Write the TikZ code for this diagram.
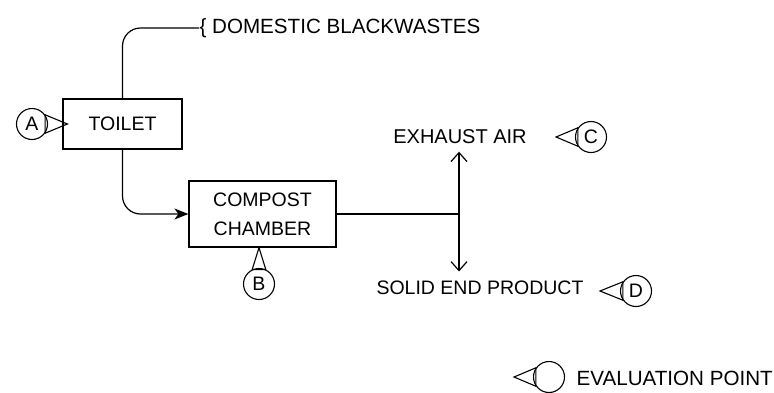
\documentclass[tikz,border=0pt]{standalone}
\usepackage{fontspec}
\setmainfont{Liberation Sans}
\usetikzlibrary{arrows.meta,calc}
\begin{document}
\begin{tikzpicture}[x=1pt,y=-1pt,
  line width=1.2pt,
  every node/.style={font=\fontsize{19.5}{29}\selectfont},
  unitbox/.style={draw,rectangle,inner sep=0pt,align=center},
  lbl/.style={inner sep=0pt},
  widelbl/.style={inner sep=0pt,font=\fontsize{20.6}{24}\selectfont},
  evalcirc/.style={draw,circle,minimum size=31pt,inner sep=0pt,line width=1.1pt},
  evaltri/.style={line width=1.1pt,line join=miter},
  flowarrow/.style={-{Stealth[length=14pt,width=11pt,inset=4pt]}},
  outarrow/.style={-{Straight Barb[length=9pt,width=16pt]}}
]
\useasboundingbox (0,0) rectangle (774,392);

% units
\node[unitbox,minimum width=119pt,minimum height=50pt] (toilet) at (122.5,124) {TOILET};
\node[unitbox,minimum width=147pt,minimum height=66pt] (chamber) at (262.5,214) {COMPOST\\CHAMBER};

% labels
\node[widelbl,anchor=west] (dom) at (199,28) {\{ DOMESTIC BLACKWASTES};
\node[lbl,font=\fontsize{20}{24}\selectfont] (exhaust) at (460,137) {EXHAUST AIR};
\node[lbl] (solid) at (480,288) {SOLID END PRODUCT};
\node[widelbl,anchor=west] (legend) at (576,378) {EVALUATION POINT};

% connectors
\draw[rounded corners=18pt] (toilet.north) |- (dom.west);
\draw[rounded corners=18pt,flowarrow] (toilet.south) |- (chamber.west);
\coordinate (j) at (459,214);
\draw (chamber.east) -- (j);
\draw[outarrow,shorten >=7pt] (j) -- (j |- exhaust.south);
\draw[outarrow,shorten >=9pt] (j) -- (j |- solid.north);

% evaluation points
\node[evalcirc] (cA) at (32,124) {A};
\coordinate (tA) at ($(toilet.west)+(5,0)$);
\draw[evaltri] (cA.35) -- (tA) -- (cA.-35) -- cycle;

\node[evalcirc] (cB) at (259,284) {B};
\coordinate (tB) at (cB |- chamber.south);
\draw[evaltri] (cB.115) -- (tB) -- (cB.65) -- cycle;

\node[evalcirc] (cC) at (591,137) {C};
\coordinate (tC) at ($(cC)+(-35,0)$);
\draw[evaltri] (cC.145) -- (tC) -- (cC.215) -- cycle;

\node[evalcirc] (cD) at (636,291) {D};
\coordinate (tD) at ($(cD)+(-36,0)$);
\draw[evaltri] (cD.145) -- (tD) -- (cD.215) -- cycle;

\node[evalcirc] (cL) at (549,377) {};
\coordinate (tL) at ($(cL)+(-35,0)$);
\draw[evaltri] (cL.145) -- (tL) -- (cL.215) -- cycle;
\end{tikzpicture}
\end{document}
